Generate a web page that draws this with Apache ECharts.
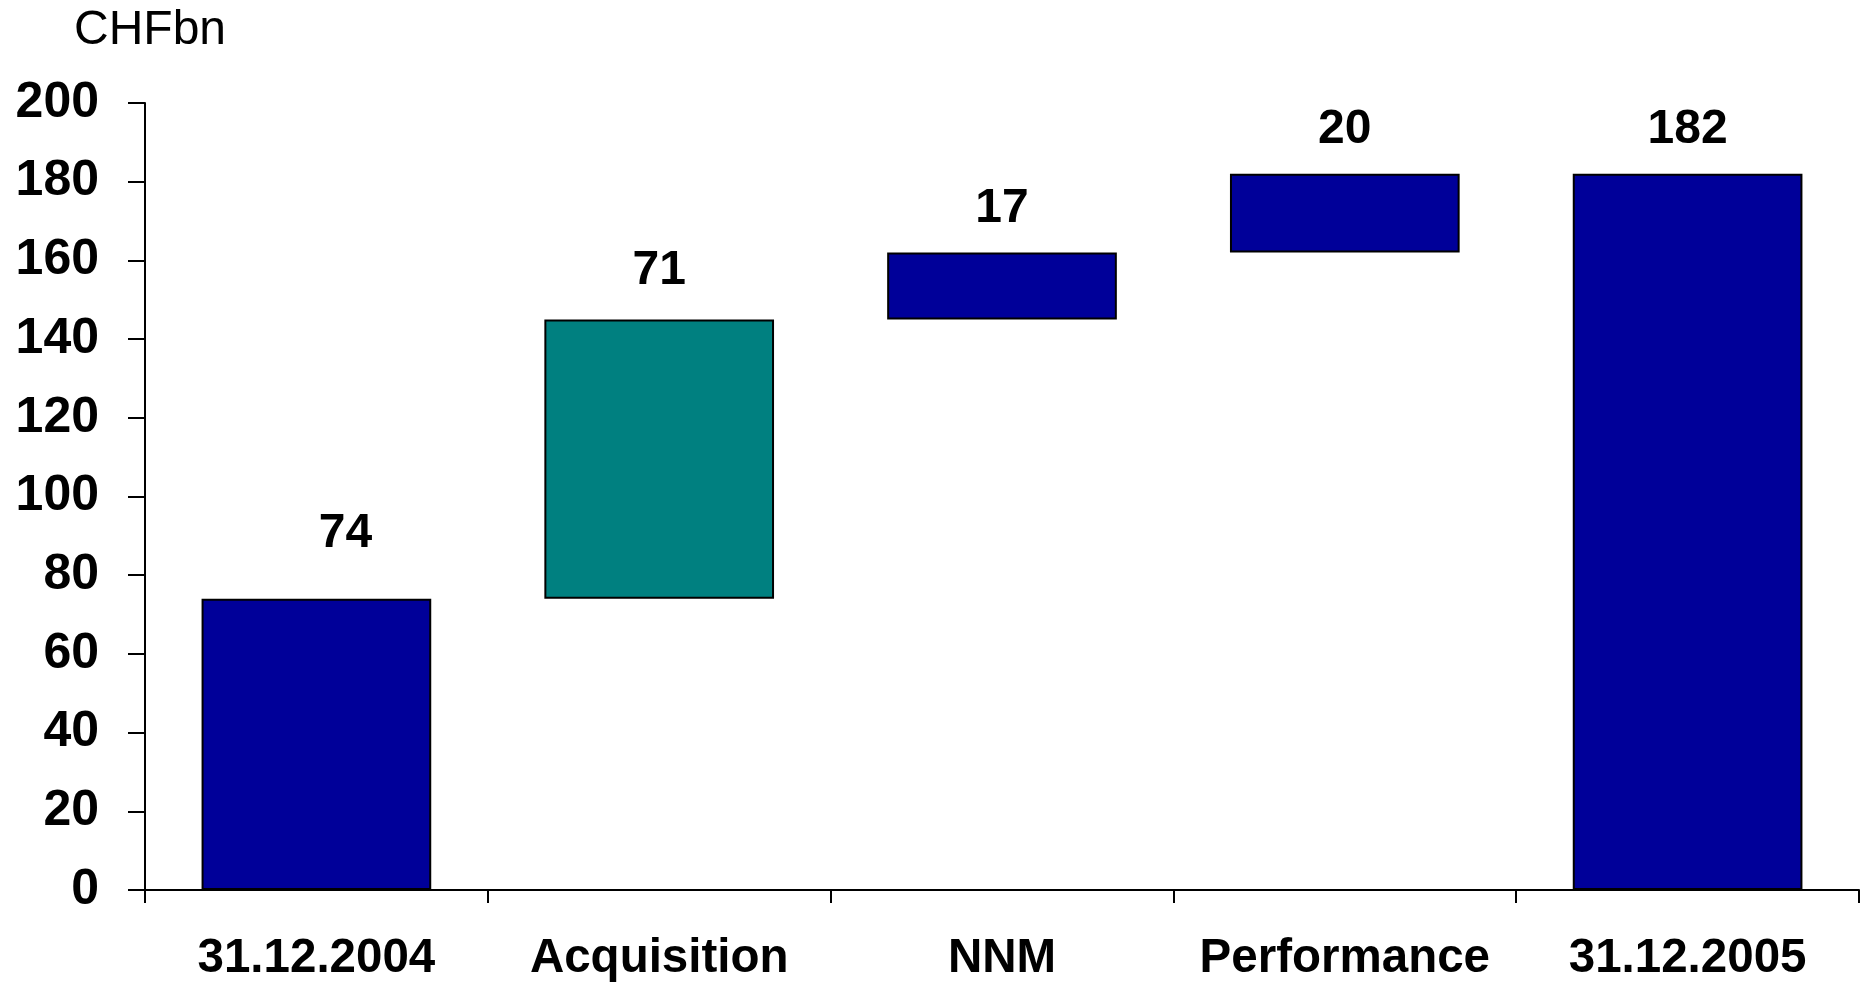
<!DOCTYPE html>
<html>
<head>
<meta charset="utf-8">
<title>CHFbn bridge</title>
<script src="https://cdn.jsdelivr.net/npm/echarts@6/dist/echarts.min.js"></script>
<style>
  html, body { margin: 0; padding: 0; background: #ffffff; }
  #chart { width: 1861px; height: 983px; }
</style>
</head>
<body>
<div id="chart"></div>
<script>
// Assets under management bridge, CHF billions
const categories = ['31.12.2004', 'Acquisition', 'NNM', 'Performance', '31.12.2005'];
const steps = [74, 71, 17, 20, 182];
const isTotal = [true, false, false, false, true];
const barColors = ['#000099', '#008080', '#000099', '#000099', '#000099'];
const yTicks = [0, 20, 40, 60, 80, 100, 120, 140, 160, 180, 200];
const unitLabel = 'CHFbn';

// Per-bar label nudges (px)
const labelOffsets = [[29, -21], [0, -5], [0, 0], [0, 0], [0, 0]];

const FONT = '"Liberation Sans", Arial, sans-serif';

// Invisible base for each floating step, built from the running total
const bases = [];
let running = 0;
steps.forEach((v, i) => {
  if (isTotal[i]) { bases.push(0); running = v; }
  else { bases.push(running); running += v; }
});

const chart = echarts.init(document.getElementById('chart'), null, { renderer: 'canvas' });

chart.setOption({
  animation: false,
  backgroundColor: '#ffffff',
  title: {
    text: unitLabel,
    left: 69,
    top: 2,
    textStyle: { fontFamily: FONT, fontSize: 48, fontWeight: 'normal', color: '#000000' }
  },
  grid: { left: 145, right: 2, top: 103, bottom: 90, containLabel: false },
  xAxis: {
    type: 'category',
    data: categories,
    axisLine: { lineStyle: { color: '#000000', width: 2 } },
    axisTick: { show: true, interval: 0, length: 13, lineStyle: { color: '#000000', width: 2 } },
    axisLabel: { interval: 0, fontFamily: FONT, fontSize: 47.5, fontWeight: 'bold', color: '#000000', margin: 45 },
    splitLine: { show: false }
  },
  yAxis: {
    type: 'value',
    min: yTicks[0],
    max: yTicks[yTicks.length - 1],
    interval: yTicks[1] - yTicks[0],
    axisLine: { show: true, lineStyle: { color: '#000000', width: 2 } },
    axisTick: { show: true, length: 17, lineStyle: { color: '#000000', width: 2 } },
    axisLabel: { fontFamily: FONT, fontSize: 50, fontWeight: 'bold', color: '#000000', margin: 46 },
    splitLine: { show: false }
  },
  series: [
    {
      name: 'base',
      type: 'bar',
      stack: 'bridge',
      barWidth: '67%',
      silent: true,
      itemStyle: { color: 'transparent', borderWidth: 0 },
      data: bases
    },
    {
      name: 'value',
      type: 'bar',
      stack: 'bridge',
      barWidth: '67%',
      data: steps.map((v, i) => ({
        value: v,
        itemStyle: { color: barColors[i], borderColor: '#000000', borderWidth: 2 },
        label: { offset: labelOffsets[i] }
      })),
      label: {
        show: true,
        position: 'top',
        distance: 20,
        fontFamily: FONT,
        fontSize: 48,
        fontWeight: 'bold',
        color: '#000000',
        formatter: p => String(p.value)
      }
    }
  ]
});
</script>
</body>
</html>
